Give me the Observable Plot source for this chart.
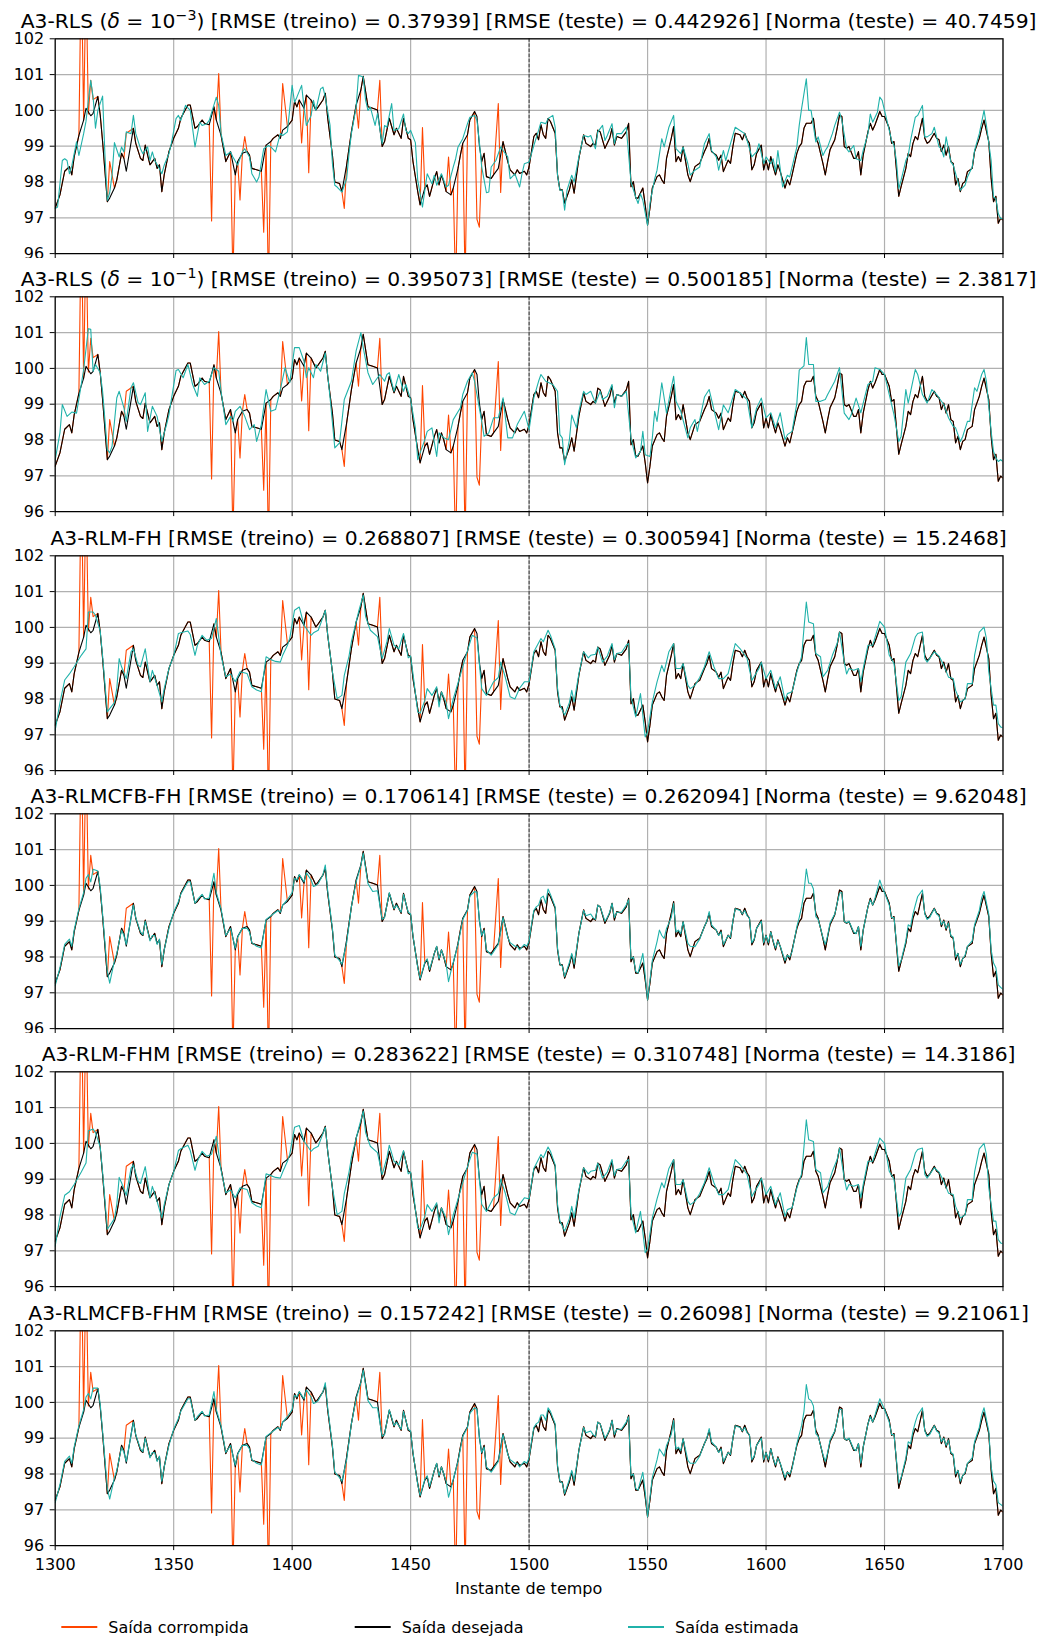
<!DOCTYPE html>
<html>
<head>
<meta charset="utf-8">
<script src="https://cdn.jsdelivr.net/npm/d3@7"></script>
<script src="https://cdn.jsdelivr.net/npm/@observablehq/plot@0.6"></script>
<style>
  html, body { margin: 0; padding: 0; background: #ffffff; }
  #chart { position: relative; width: 1044px; height: 1637px; background: #ffffff; }
</style>
</head>
<body>
<div id="chart"></div>
<script>
// ---- Axis ticks, labels and series names ----
const xTicks = [1300, 1350, 1400, 1450, 1500, 1550, 1600, 1650, 1700];
const yTicks = [96, 97, 98, 99, 100, 101, 102];
const splitInstant = 1500; // end of training, start of test
const xLabel = "Instante de tempo";
const seriesNames = ["Saída corrompida", "Saída desejada", "Saída estimada"];
const seriesColors = ["#ff4500", "#000000", "#20b2aa"];

const panelTitles = [
  "A3-RLS (δ = 10^{−3}) [RMSE (treino) = 0.37939] [RMSE (teste) = 0.442926] [Norma (teste) = 40.7459]",
  "A3-RLS (δ = 10^{−1}) [RMSE (treino) = 0.395073] [RMSE (teste) = 0.500185] [Norma (teste) = 2.3817]",
  "A3-RLM-FH [RMSE (treino) = 0.268807] [RMSE (teste) = 0.300594] [Norma (teste) = 15.2468]",
  "A3-RLMCFB-FH [RMSE (treino) = 0.170614] [RMSE (teste) = 0.262094] [Norma (teste) = 9.62048]",
  "A3-RLM-FHM [RMSE (treino) = 0.283622] [RMSE (teste) = 0.310748] [Norma (teste) = 14.3186]",
  "A3-RLMCFB-FHM [RMSE (treino) = 0.157242] [RMSE (teste) = 0.26098] [Norma (teste) = 9.21061]"
];

// ---- Desired output: [instant, value] ----
const desired = [
  [1300,97.27],[1302,97.64],[1304,98.3],[1306,98.43],[1307,98.2],[1308,98.7],[1310,99.3],[1312,99.73],[1313,100.06],[1315,99.85],
  [1316,99.92],[1318,100.39],[1319,99.87],[1320,99.13],[1322,97.45],[1323,97.55],[1325,97.83],[1326,98.06],[1328,98.8],[1329,98.66],
  [1330,98.3],[1333,99.5],[1334,99.08],[1336,98.66],[1337,98.6],[1338,99.03],[1340,98.48],[1341,98.57],[1342,98.66],[1343,98.38],
  [1344,98.48],[1345,97.73],[1346,98.2],[1348,98.85],[1350,99.22],[1352,99.5],[1353,99.78],[1356,100.15],[1357,100.15],[1359,99.5],
  [1360,99.55],[1362,99.73],[1363,99.64],[1365,99.6],[1367,100.1],[1368,99.73],[1370,99.3],[1372,98.57],[1374,98.85],[1376,98.2],
  [1377,98.57],[1379,98.8],[1381,98.85],[1382,98.75],[1383,98.38],[1385,98.34],[1387,98.3],[1389,99.03],[1391,99.13],[1392,99.22],
  [1394,99.32],[1395,99.22],[1396,99.45],[1398,99.55],[1400,99.73],[1401,100.25],[1402,100.1],[1403,100.29],[1405,100.06],[1406,100.43],
  [1408,100.29],[1410,100.01],[1411,100.1],[1413,100.29],[1414,100.48],[1415,99.78],[1417,98.75],[1418,98.0],[1420,97.96],[1421,97.73],
  [1423,98.48],[1425,99.4],[1427,100.15],[1429,100.57],[1430,100.95],[1432,100.1],[1434,100.06],[1436,100.01],[1438,98.99],[1439,99.13],
  [1441,99.78],[1443,99.32],[1444,99.5],[1446,99.22],[1447,99.78],[1449,99.22],[1450,99.18],[1451,98.57],[1453,97.73],[1454,97.36],
  [1456,97.83],[1457,97.92],[1458,97.6],[1460,98.1],[1461,98.29],[1462,97.92],[1463,98.2],[1464,98.0],[1465,97.73],[1467,97.64],
  [1468,97.83],[1470,98.38],[1471,98.75],[1472,99.08],[1474,99.32],[1475,99.73],[1477,99.97],[1478,99.83],[1479,99.03],[1480,98.57],
  [1481,98.8],[1482,98.15],[1484,98.1],[1485,98.2],[1487,98.38],[1488,98.75],[1489,99.13],[1491,98.57],[1492,98.34],[1494,98.2],
  [1495,98.34],[1496,98.24],[1498,98.3],[1499,98.2],[1500,98.43],[1501,98.85],[1502,99.27],[1503,99.36],[1504,99.18],[1505,99.6],
  [1506,99.32],[1507,99.22],[1508,99.78],[1509,99.69],[1511,99.36],[1512,98.2],[1513,97.78],[1514,97.78],[1515,97.41],[1517,97.78],
  [1518,98.06],[1519,97.69],[1521,98.66],[1523,99.32],[1524,99.08],[1526,98.99],[1527,99.08],[1528,99.03],[1529,99.45],[1530,99.4],
  [1532,98.94],[1533,99.08],[1534,99.22],[1535,99.5],[1536,99.03],[1537,99.27],[1539,99.22],[1541,99.4],[1542,99.64],[1543,97.87],
  [1544,98.01],[1545,97.55],[1546,97.55],[1548,97.83],[1549,97.36],[1550,96.8],[1551,97.27],[1552,97.83],[1554,98.15],[1555,98.2],
  [1556,98.06],[1557,97.96],[1558,98.66],[1560,99.22],[1561,99.55],[1562,98.57],[1563,98.71],[1564,98.57],[1565,98.99],[1567,98.2],
  [1568,98.01],[1570,98.43],[1571,98.48],[1572,98.52],[1574,98.85],[1575,98.99],[1576,99.22],[1577,98.85],[1579,98.75],[1580,98.61],
  [1581,98.75],[1582,98.29],[1584,98.61],[1585,98.52],[1586,98.99],[1587,99.36],[1589,99.32],[1590,99.18],[1591,99.36],[1592,99.18],
  [1593,99.08],[1594,98.34],[1595,98.48],[1596,98.8],[1598,99.03],[1599,98.34],[1600,98.61],[1601,98.34],[1602,98.71],[1603,98.43],
  [1604,98.2],[1605,98.48],[1606,98.29],[1608,97.83],[1609,98.06],[1610,97.92],[1611,98.2],[1613,98.8],[1614,98.99],[1615,99.08],
  [1616,99.5],[1617,99.64],[1619,99.64],[1620,99.78],[1621,99.22],[1622,99.08],[1624,98.52],[1625,98.2],[1626,98.57],[1627,98.9],
  [1629,99.18],[1630,99.5],[1631,99.87],[1632,99.83],[1633,98.99],[1634,98.94],[1635,98.99],[1637,98.66],[1638,98.66],[1639,98.85],
  [1640,98.2],[1641,98.75],[1643,99.4],[1644,99.64],[1645,99.45],[1646,99.6],[1648,99.97],[1649,99.83],[1650,99.83],[1652,99.5],
  [1653,99.08],[1654,99.13],[1656,97.6],[1657,97.87],[1659,98.38],[1660,98.8],[1661,98.71],[1662,99.08],[1663,99.27],[1664,99.18],
  [1666,99.78],[1667,99.22],[1668,99.08],[1669,99.13],[1671,99.36],[1672,99.22],[1673,99.18],[1674,98.85],[1675,99.03],[1676,98.75],
  [1677,98.99],[1678,98.57],[1679,98.52],[1680,97.92],[1681,98.1],[1682,97.73],[1683,97.96],[1684,98.01],[1685,98.29],[1687,98.38],
  [1688,98.85],[1690,99.22],[1691,99.5],[1692,99.73],[1694,99.13],[1695,98.1],[1696,97.45],[1697,97.6],[1698,96.85],[1699,96.99],
  [1700,96.94]
];

// ---- Outliers injected into the training output: [instant, value] ----
const outliers = [
  [1311,104.2],[1313,103.8],[1314,99.9],[1315,100.84],[1316,100.3],[1323,98.57],[1330,99.36],[1366,96.91],[1369,101.03],[1375,95.3],
  [1378,97.5],[1380,99.27],[1388,96.6],[1390,95.0],[1396,100.75],[1404,99.09],[1407,98.26],[1422,97.26],[1428,99.5],[1437,100.84],
  [1455,99.52],[1466,98.7],[1469,95.0],[1473,95.2],[1478,96.96],[1479,96.74],[1487,100.19],[1488,97.71]
];

// ---- Estimated output of each algorithm: [instant, value] ----
const estimatedRls3 = [
  [1300,97.26],[1301,97.3],[1303,98.6],[1304,98.65],[1305,98.6],[1306,98.23],[1307,98.45],[1309,99.12],[1310,98.74],[1312,99.35],
  [1313,99.7],[1314,100.28],[1315,100.84],[1316,100.37],[1317,99.5],[1318,100.0],[1320,100.4],[1321,98.74],[1322,97.49],[1323,97.7],
  [1324,98.2],[1325,99.1],[1326,98.9],[1327,98.7],[1328,98.98],[1329,98.84],[1330,99.4],[1332,99.35],[1333,99.86],[1334,99.35],
  [1336,98.93],[1337,98.79],[1339,98.98],[1340,98.6],[1341,98.84],[1342,98.6],[1344,98.37],[1345,98.23],[1346,98.47],[1348,98.79],
  [1349,99.07],[1351,99.77],[1352,99.86],[1353,99.72],[1355,100.14],[1357,100.0],[1359,98.98],[1361,99.67],[1362,99.58],[1364,99.63],
  [1365,99.72],[1368,100.37],[1369,100.14],[1370,99.35],[1372,98.74],[1374,98.84],[1375,98.7],[1377,98.47],[1379,98.84],[1380,98.93],
  [1382,98.7],[1383,98.23],[1385,98.0],[1386,98.14],[1388,98.93],[1390,99.02],[1391,98.98],[1393,98.84],[1395,99.35],[1396,99.3],
  [1398,99.4],[1400,100.7],[1401,100.23],[1402,100.37],[1404,100.7],[1405,100.09],[1406,99.58],[1408,99.86],[1409,100.28],[1410,100.0],
  [1412,100.6],[1413,100.65],[1414,100.37],[1416,99.58],[1417,98.51],[1418,97.91],[1419,97.86],[1421,97.72],[1423,98.09],[1424,98.79],
  [1425,99.35],[1427,100.09],[1428,100.98],[1430,100.93],[1431,100.28],[1432,100.0],[1433,100.09],[1435,99.58],[1436,99.91],[1437,99.49],
  [1438,99.07],[1439,99.58],[1440,99.53],[1442,100.19],[1443,99.44],[1445,99.49],[1447,99.9],[1448,99.44],[1449,99.35],[1450,99.44],
  [1452,99.1],[1453,98.05],[1455,97.3],[1456,97.77],[1457,98.23],[1459,97.95],[1460,98.19],[1461,97.91],[1463,98.23],[1465,97.86],
  [1466,97.91],[1468,98.42],[1469,98.65],[1470,98.98],[1472,99.21],[1474,99.63],[1475,99.81],[1477,99.86],[1478,99.72],[1479,99.12],
  [1480,98.42],[1482,97.7],[1483,97.72],[1484,98.42],[1486,98.6],[1488,98.98],[1489,98.88],[1491,98.7],[1492,98.09],[1494,98.23],
  [1496,97.86],[1497,98.23],[1498,98.51],[1500,98.56],[1502,99.02],[1504,99.44],[1505,99.67],[1507,99.63],[1508,99.77],[1510,99.86],
  [1511,99.53],[1512,98.19],[1513,97.77],[1514,97.77],[1515,97.21],[1516,97.77],[1518,98.19],[1519,98.0],[1521,98.7],[1523,99.3],
  [1525,99.26],[1526,99.3],[1528,98.93],[1529,99.4],[1531,99.58],[1532,99.16],[1533,99.3],[1535,99.63],[1536,99.07],[1537,99.35],
  [1539,99.35],[1540,99.44],[1541,99.53],[1543,98.0],[1545,97.58],[1546,97.4],[1547,97.67],[1548,97.49],[1550,96.79],[1551,97.4],
  [1553,98.09],[1554,98.33],[1556,99.21],[1557,98.98],[1559,99.53],[1561,99.86],[1562,98.93],[1564,98.79],[1565,98.98],[1567,98.51],
  [1568,98.19],[1570,98.33],[1572,98.42],[1574,99.07],[1576,99.35],[1577,98.88],[1579,98.7],[1580,98.33],[1582,98.88],[1583,98.6],
  [1585,99.07],[1587,99.53],[1589,99.44],[1591,99.35],[1592,99.16],[1594,98.7],[1596,98.84],[1597,99.07],[1599,98.51],[1600,98.7],
  [1602,98.51],[1603,98.65],[1604,98.28],[1605,98.88],[1606,98.37],[1607,97.86],[1609,98.19],[1610,98.14],[1612,98.7],[1613,98.98],
  [1614,99.58],[1615,100.05],[1617,100.88],[1618,100.0],[1619,100.0],[1621,99.12],[1622,99.26],[1624,98.74],[1625,98.88],[1626,98.98],
  [1628,99.35],[1629,99.58],[1631,99.95],[1632,99.72],[1634,98.93],[1635,98.84],[1637,99.02],[1638,98.65],[1640,98.6],[1641,98.88],
  [1643,99.35],[1644,99.9],[1645,99.67],[1647,99.95],[1648,100.37],[1649,100.28],[1651,99.72],[1653,99.16],[1654,99.02],[1655,98.6],
  [1656,97.81],[1657,98.05],[1659,98.6],[1660,98.74],[1661,99.16],[1663,99.81],[1664,99.86],[1666,100.14],[1667,99.26],[1668,99.26],
  [1670,99.35],[1671,99.53],[1673,98.98],[1674,98.93],[1675,98.7],[1676,99.26],[1678,98.56],[1679,98.47],[1681,98.0],[1682,97.77],
  [1684,97.91],[1685,98.14],[1687,98.42],[1688,98.88],[1690,99.35],[1691,99.67],[1692,100.0],[1693,99.58],[1695,98.6],[1696,97.58],
  [1697,97.54],[1698,97.12],[1699,96.98],[1700,96.98]
];

const estimatedRls1 = [
  [1300,97.45],[1302,98.2],[1303,98.99],[1305,98.66],[1307,98.78],[1309,98.75],[1311,99.55],[1312,99.97],[1314,101.11],[1315,101.09],
  [1316,99.92],[1317,100.11],[1319,99.88],[1320,99.36],[1322,97.73],[1323,97.64],[1324,97.83],[1326,99.18],[1327,99.36],[1329,98.9],
  [1330,98.52],[1332,99.46],[1333,99.6],[1335,99.04],[1336,98.99],[1338,99.32],[1339,98.24],[1341,98.94],[1343,98.66],[1345,97.96],
  [1347,98.43],[1348,98.71],[1351,99.94],[1352,99.97],[1354,99.74],[1356,100.11],[1358,99.55],[1360,99.22],[1361,99.74],[1363,99.55],
  [1365,99.64],[1367,100.02],[1369,99.92],[1370,99.36],[1372,98.43],[1374,98.66],[1375,98.52],[1376,98.8],[1378,98.94],[1380,98.66],
  [1382,98.29],[1384,98.43],[1385,97.96],[1387,98.43],[1389,99.41],[1391,98.8],[1393,98.85],[1395,99.41],[1397,100.02],[1399,99.6],
  [1401,100.58],[1403,100.58],[1405,100.2],[1406,99.74],[1407,100.02],[1409,99.74],[1410,100.11],[1412,99.92],[1414,100.43],[1416,99.18],
  [1418,97.78],[1420,97.92],[1422,99.13],[1425,99.64],[1427,100.49],[1429,101.0],[1430,100.58],[1432,99.88],[1434,99.55],[1437,99.83],
  [1439,99.64],[1440,99.83],[1441,99.88],[1443,99.36],[1445,99.83],[1447,99.36],[1448,99.55],[1450,99.13],[1452,98.34],[1453,97.45],
  [1456,98.01],[1457,98.24],[1459,98.34],[1461,97.54],[1462,98.2],[1464,98.06],[1466,98.01],[1468,98.57],[1471,98.9],[1472,99.27],
  [1474,99.64],[1476,99.88],[1477,99.64],[1480,98.52],[1481,98.1],[1483,98.2],[1485,98.62],[1487,98.62],[1489,99.18],[1491,98.06],
  [1493,98.06],[1495,98.43],[1498,98.8],[1500,98.29],[1502,99.18],[1504,99.64],[1505,99.83],[1507,99.64],[1510,99.55],[1512,99.36],
  [1513,98.15],[1514,98.06],[1515,97.31],[1517,98.0],[1518,98.7],[1520,98.34],[1521,98.8],[1523,99.36],[1524,99.27],[1526,99.36],
  [1528,99.03],[1530,99.36],[1531,99.13],[1533,99.22],[1535,99.55],[1536,98.9],[1537,99.27],[1539,99.22],[1541,99.36],[1543,98.06],
  [1545,97.5],[1547,97.68],[1548,98.24],[1549,97.59],[1551,97.54],[1552,98.06],[1553,98.8],[1554,98.52],[1556,99.6],[1558,98.75],
  [1560,99.46],[1561,99.78],[1562,99.08],[1564,98.8],[1567,98.06],[1568,98.34],[1570,98.57],[1571,98.24],[1574,99.2],[1576,99.41],
  [1578,98.85],[1580,98.29],[1582,98.98],[1584,98.76],[1587,99.41],[1589,99.32],[1592,99.13],[1594,98.34],[1596,98.89],[1598,99.17],
  [1600,98.62],[1602,98.76],[1604,98.34],[1606,98.76],[1608,98.01],[1609,98.15],[1611,98.24],[1613,99.03],[1614,99.95],[1616,100.07],
  [1617,100.86],[1618,100.11],[1620,100.11],[1621,99.08],[1623,99.08],[1625,99.13],[1626,99.27],[1629,99.64],[1631,100.02],[1633,98.75],
  [1635,98.57],[1636,98.71],[1638,99.17],[1640,98.76],[1641,99.03],[1643,99.55],[1645,99.64],[1646,100.02],[1648,99.97],[1650,99.83],
  [1652,99.27],[1654,98.71],[1656,97.96],[1657,98.1],[1659,99.41],[1660,99.03],[1663,99.97],[1664,99.83],[1666,99.27],[1668,99.03],
  [1670,99.41],[1672,99.27],[1675,98.99],[1677,98.62],[1679,98.38],[1680,98.34],[1682,97.96],[1683,98.1],[1685,98.52],[1686,98.52],
  [1688,99.46],[1689,99.36],[1691,99.83],[1692,99.97],[1693,99.64],[1695,98.24],[1696,97.68],[1697,97.5],[1698,97.4],[1699,97.45],
  [1700,97.4]
];

const estimatedRlmFh = [
  [1300,97.13],[1302,97.9],[1304,98.53],[1306,98.7],[1308,98.9],[1311,99.22],[1313,99.4],[1314,100.43],[1316,100.43],[1317,100.34],
  [1319,99.9],[1320,99.2],[1322,97.64],[1323,97.73],[1325,97.9],[1326,98.3],[1327,99.13],[1328,98.9],[1330,98.57],[1332,99.32],
  [1333,99.4],[1335,98.94],[1336,98.9],[1338,99.4],[1340,98.48],[1341,98.8],[1343,98.38],[1345,97.92],[1346,98.29],[1348,98.85],
  [1350,99.2],[1352,99.83],[1353,99.85],[1356,99.9],[1357,99.8],[1359,99.22],[1360,99.5],[1362,99.78],[1364,99.64],[1366,99.7],
  [1368,100.25],[1370,99.22],[1372,98.62],[1374,98.7],[1376,98.48],[1378,98.76],[1381,98.71],[1383,98.34],[1385,98.25],[1387,98.2],
  [1389,99.18],[1391,99.1],[1393,99.05],[1395,99.03],[1396,99.22],[1398,99.5],[1399,99.7],[1401,100.48],[1403,100.57],[1405,100.06],
  [1408,99.78],[1409,99.85],[1411,99.92],[1412,100.1],[1414,100.48],[1415,99.8],[1417,98.75],[1419,98.01],[1421,98.1],[1422,98.66],
  [1424,99.2],[1425,99.6],[1428,100.43],[1430,100.9],[1431,100.3],[1433,99.92],[1436,99.74],[1438,99.13],[1440,99.6],[1441,99.97],
  [1443,99.5],[1445,99.4],[1447,99.83],[1449,99.15],[1450,99.2],[1451,98.7],[1453,97.64],[1454,97.6],[1456,97.96],[1457,98.29],
  [1459,98.1],[1461,98.34],[1462,97.78],[1463,98.2],[1465,97.9],[1466,97.45],[1468,98.0],[1470,98.45],[1472,98.9],[1474,99.35],
  [1476,99.78],[1478,99.7],[1480,98.29],[1482,98.1],[1485,98.48],[1487,98.6],[1488,99.03],[1490,98.6],[1492,98.06],[1494,98.0],
  [1496,98.3],[1498,98.48],[1500,98.48],[1502,99.32],[1505,99.69],[1506,99.6],[1508,99.92],[1509,99.78],[1511,99.4],[1512,98.3],
  [1513,97.83],[1515,97.55],[1517,97.9],[1518,98.24],[1519,97.92],[1521,98.7],[1523,99.32],[1525,99.15],[1526,99.22],[1528,99.25],
  [1529,99.45],[1531,99.03],[1533,99.2],[1535,99.55],[1536,99.1],[1537,99.27],[1539,99.3],[1541,99.5],[1542,99.55],[1543,98.06],
  [1545,97.5],[1547,98.15],[1549,96.94],[1550,97.08],[1552,97.92],[1554,98.48],[1556,98.94],[1557,98.76],[1559,99.32],[1561,99.55],
  [1562,98.85],[1564,98.85],[1565,98.99],[1567,98.38],[1568,98.29],[1570,98.38],[1572,98.6],[1574,98.9],[1576,99.32],[1578,98.9],
  [1580,98.57],[1582,98.57],[1584,98.71],[1587,99.55],[1589,99.41],[1592,99.13],[1594,98.52],[1597,98.85],[1598,99.03],[1600,98.57],
  [1602,98.8],[1604,98.29],[1606,98.62],[1608,97.96],[1609,98.15],[1611,98.2],[1613,98.75],[1615,99.18],[1616,99.97],[1617,100.71],
  [1618,100.15],[1620,100.1],[1621,99.27],[1623,99.18],[1624,98.62],[1626,98.8],[1628,99.22],[1630,99.55],[1631,99.87],[1633,99.03],
  [1634,98.7],[1635,98.85],[1637,98.8],[1639,98.85],[1640,98.48],[1641,98.85],[1643,99.5],[1645,99.5],[1648,100.17],[1650,100.01],
  [1652,99.22],[1654,98.99],[1656,97.96],[1657,98.06],[1659,99.03],[1661,99.27],[1663,99.73],[1664,99.83],[1666,99.87],[1667,99.13],
  [1668,99.03],[1671,99.32],[1673,99.2],[1675,98.94],[1677,98.61],[1679,98.57],[1680,98.24],[1682,97.92],[1684,98.0],[1685,98.43],
  [1687,98.43],[1688,99.22],[1690,99.87],[1692,100.01],[1693,99.69],[1694,98.76],[1696,97.83],[1697,97.83],[1698,97.31],[1699,97.22],
  [1700,97.2]
];

const estimatedRlmcfbFh = [
  [1300,97.2],[1302,97.7],[1304,98.35],[1306,98.5],[1307,98.3],[1308,98.75],[1310,99.35],[1312,99.8],[1313,100.2],[1314,100.3],
  [1315,100.1],[1316,100.45],[1318,100.4],[1319,99.95],[1320,99.2],[1322,97.6],[1323,97.27],[1325,97.9],[1326,98.1],[1328,98.75],
  [1329,98.6],[1330,98.35],[1333,99.45],[1334,99.1],[1336,98.7],[1337,98.62],[1338,99.0],[1340,98.45],[1341,98.6],[1342,98.6],
  [1343,98.35],[1344,98.5],[1345,97.8],[1346,98.2],[1348,98.8],[1350,99.25],[1352,99.55],[1353,99.75],[1356,100.1],[1357,100.1],
  [1359,99.5],[1360,99.6],[1362,99.75],[1363,99.62],[1365,99.65],[1367,100.34],[1368,99.8],[1370,99.35],[1372,98.6],[1374,98.8],
  [1376,98.25],[1377,98.55],[1379,98.8],[1381,98.8],[1382,98.7],[1383,98.4],[1385,98.3],[1387,98.25],[1389,99.05],[1391,99.15],
  [1392,99.2],[1394,99.3],[1395,99.25],[1396,99.45],[1398,99.6],[1400,99.8],[1401,100.2],[1402,100.15],[1403,100.3],[1405,100.1],
  [1406,100.35],[1408,100.15],[1409,99.97],[1410,100.0],[1411,100.05],[1413,100.3],[1414,100.57],[1415,99.85],[1417,98.8],[1418,98.05],
  [1420,97.9],[1421,97.8],[1423,98.4],[1425,99.4],[1427,100.1],[1429,100.55],[1430,100.9],[1432,100.05],[1434,99.83],[1436,99.85],
  [1438,99.05],[1439,99.1],[1441,99.8],[1443,99.35],[1444,99.45],[1446,99.25],[1447,99.75],[1449,99.25],[1450,99.2],[1451,98.6],
  [1453,97.7],[1454,97.4],[1456,97.85],[1457,97.95],[1458,97.65],[1460,98.1],[1461,98.3],[1462,97.95],[1463,98.2],[1464,98.0],
  [1465,97.8],[1466,97.31],[1467,97.6],[1468,97.85],[1470,98.35],[1471,98.7],[1472,99.05],[1474,99.3],[1475,99.7],[1477,99.83],
  [1478,99.8],[1479,99.05],[1480,98.6],[1481,98.75],[1482,98.2],[1484,98.05],[1485,98.15],[1487,98.35],[1488,98.7],[1489,99.1],
  [1491,98.55],[1492,98.4],[1494,98.3],[1495,98.3],[1496,98.2],[1498,98.35],[1499,98.3],[1500,98.45],[1501,98.9],[1502,99.3],
  [1503,99.4],[1504,99.45],[1505,99.65],[1506,99.7],[1507,99.5],[1508,99.9],[1509,99.75],[1511,99.4],[1512,98.25],[1513,97.8],
  [1514,97.75],[1515,97.45],[1517,97.85],[1518,98.1],[1519,97.8],[1521,98.65],[1523,99.3],[1524,99.15],[1526,99.2],[1527,99.1],
  [1528,99.05],[1529,99.45],[1530,99.4],[1532,99.0],[1533,99.1],[1534,99.25],[1535,99.5],[1536,99.1],[1537,99.25],[1539,99.25],
  [1541,99.45],[1542,99.6],[1543,97.95],[1544,98.0],[1545,97.6],[1546,97.55],[1548,98.1],[1549,97.5],[1550,96.8],[1551,97.35],
  [1552,97.9],[1554,98.43],[1555,98.75],[1556,98.6],[1557,98.52],[1558,98.8],[1560,99.1],[1561,99.5],[1562,98.7],[1563,98.75],
  [1564,98.65],[1565,98.99],[1567,98.38],[1568,98.3],[1570,98.29],[1571,98.4],[1572,98.5],[1574,98.85],[1575,99.0],[1576,99.27],
  [1577,98.9],[1579,98.75],[1580,98.6],[1581,98.7],[1582,98.35],[1584,98.6],[1585,98.55],[1586,99.0],[1587,99.35],[1589,99.3],
  [1590,99.2],[1591,99.3],[1592,99.15],[1593,99.1],[1594,98.4],[1595,98.5],[1596,98.8],[1598,99.0],[1599,98.4],[1600,98.6],
  [1601,98.4],[1602,98.7],[1603,98.45],[1604,98.25],[1605,98.45],[1606,98.3],[1608,97.9],[1609,98.05],[1610,98.0],[1611,98.15],
  [1613,98.85],[1614,99.1],[1615,99.4],[1616,99.8],[1617,100.46],[1618,100.06],[1619,100.06],[1620,99.9],[1621,99.13],[1622,99.05],
  [1624,98.55],[1625,98.35],[1626,98.6],[1627,98.95],[1629,99.2],[1630,99.5],[1631,99.78],[1632,99.8],[1633,99.0],[1634,98.95],
  [1635,99.0],[1637,98.7],[1638,98.65],[1639,98.85],[1640,98.3],[1641,98.75],[1643,99.4],[1644,99.6],[1645,99.45],[1646,99.65],
  [1648,100.15],[1649,99.95],[1650,99.8],[1652,99.45],[1653,99.1],[1654,99.1],[1656,97.75],[1657,97.9],[1659,98.45],[1660,98.9],
  [1661,98.85],[1662,99.2],[1663,99.45],[1664,99.69],[1666,99.87],[1667,99.2],[1668,99.05],[1669,99.1],[1671,99.35],[1672,99.2],
  [1673,99.15],[1674,98.9],[1675,99.0],[1676,98.8],[1677,98.95],[1678,98.6],[1679,98.55],[1680,98.0],[1681,98.1],[1682,97.8],
  [1683,97.95],[1684,98.05],[1685,98.3],[1687,98.45],[1688,98.9],[1690,99.3],[1691,99.65],[1692,99.83],[1694,99.2],[1695,98.2],
  [1696,97.83],[1697,97.7],[1698,97.22],[1699,97.15],[1700,97.1]
];

const estimatedRlmFhm = [
  [1300,97.13],[1302,97.95],[1304,98.55],[1306,98.65],[1308,98.85],[1311,99.2],[1313,99.45],[1314,100.35],[1316,100.4],[1317,100.3],
  [1319,99.9],[1320,99.2],[1322,97.6],[1323,97.7],[1325,97.9],[1326,98.3],[1327,99.05],[1328,98.9],[1330,98.55],[1332,99.3],
  [1333,99.4],[1335,98.94],[1336,98.88],[1338,99.35],[1340,98.48],[1341,98.8],[1343,98.38],[1345,97.92],[1346,98.29],[1348,98.85],
  [1350,99.2],[1352,99.8],[1353,99.85],[1356,99.95],[1357,99.8],[1359,99.25],[1360,99.5],[1362,99.78],[1364,99.64],[1366,99.7],
  [1368,100.2],[1370,99.25],[1372,98.62],[1374,98.7],[1376,98.48],[1378,98.76],[1381,98.71],[1383,98.34],[1385,98.25],[1387,98.2],
  [1389,99.15],[1391,99.1],[1393,99.05],[1395,99.03],[1396,99.2],[1398,99.5],[1399,99.7],[1401,100.45],[1403,100.5],[1405,100.06],
  [1408,99.78],[1409,99.85],[1411,99.92],[1412,100.1],[1414,100.45],[1415,99.8],[1417,98.75],[1419,98.01],[1421,98.1],[1422,98.6],
  [1424,99.2],[1425,99.6],[1428,100.4],[1430,100.9],[1431,100.3],[1433,99.92],[1436,99.74],[1438,99.13],[1440,99.6],[1441,99.95],
  [1443,99.5],[1445,99.4],[1447,99.8],[1449,99.15],[1450,99.2],[1451,98.7],[1453,97.64],[1454,97.6],[1456,97.96],[1457,98.29],
  [1459,98.1],[1461,98.34],[1462,97.78],[1463,98.2],[1465,97.9],[1466,97.45],[1468,98.0],[1470,98.45],[1472,98.9],[1474,99.35],
  [1476,99.75],[1478,99.7],[1480,98.3],[1482,98.1],[1485,98.48],[1487,98.6],[1488,99.0],[1490,98.6],[1492,98.06],[1494,98.0],
  [1496,98.3],[1498,98.48],[1500,98.45],[1502,99.3],[1505,99.69],[1506,99.6],[1508,99.9],[1509,99.78],[1511,99.4],[1512,98.3],
  [1513,97.83],[1515,97.55],[1517,97.9],[1518,98.24],[1519,97.92],[1521,98.7],[1523,99.32],[1525,99.15],[1526,99.22],[1528,99.25],
  [1529,99.45],[1531,99.03],[1533,99.2],[1535,99.55],[1536,99.1],[1537,99.27],[1539,99.3],[1541,99.5],[1542,99.55],[1543,98.06],
  [1545,97.5],[1547,98.1],[1549,96.95],[1550,97.05],[1552,97.92],[1554,98.45],[1556,98.9],[1557,98.76],[1559,99.3],[1561,99.55],
  [1562,98.85],[1564,98.85],[1565,98.99],[1567,98.38],[1568,98.29],[1570,98.38],[1572,98.6],[1574,98.9],[1576,99.32],[1578,98.9],
  [1580,98.57],[1582,98.57],[1584,98.71],[1587,99.55],[1589,99.41],[1592,99.13],[1594,98.52],[1597,98.85],[1598,99.03],[1600,98.57],
  [1602,98.8],[1604,98.29],[1606,98.62],[1608,97.96],[1609,98.15],[1611,98.2],[1613,98.75],[1615,99.15],[1616,99.9],[1617,100.66],
  [1618,100.1],[1620,100.05],[1621,99.27],[1623,99.18],[1624,98.62],[1626,98.8],[1628,99.22],[1630,99.55],[1631,99.87],[1633,99.03],
  [1634,98.7],[1635,98.85],[1637,98.8],[1639,98.85],[1640,98.48],[1641,98.85],[1643,99.5],[1645,99.5],[1648,100.15],[1650,100.0],
  [1652,99.22],[1654,98.99],[1656,97.96],[1657,98.06],[1659,99.03],[1661,99.27],[1663,99.73],[1664,99.83],[1666,99.87],[1667,99.13],
  [1668,99.03],[1671,99.32],[1673,99.2],[1675,98.94],[1677,98.61],[1679,98.57],[1680,98.24],[1682,97.92],[1684,98.0],[1685,98.43],
  [1687,98.43],[1688,99.2],[1690,99.85],[1692,100.0],[1693,99.69],[1694,98.76],[1696,97.83],[1697,97.83],[1698,97.31],[1699,97.22],
  [1700,97.2]
];

const estimatedRlmcfbFhm = [
  [1300,97.2],[1302,97.7],[1304,98.35],[1306,98.5],[1307,98.3],[1308,98.75],[1310,99.35],[1312,99.8],[1313,100.15],[1314,100.25],
  [1315,100.1],[1316,100.4],[1318,100.4],[1319,99.95],[1320,99.2],[1322,97.6],[1323,97.3],[1325,97.9],[1326,98.1],[1328,98.75],
  [1329,98.6],[1330,98.35],[1333,99.45],[1334,99.1],[1336,98.7],[1337,98.62],[1338,99.0],[1340,98.45],[1341,98.6],[1342,98.6],
  [1343,98.35],[1344,98.5],[1345,97.8],[1346,98.2],[1348,98.8],[1350,99.25],[1352,99.55],[1353,99.75],[1356,100.1],[1357,100.1],
  [1359,99.5],[1360,99.6],[1362,99.75],[1363,99.62],[1365,99.65],[1367,100.3],[1368,99.8],[1370,99.35],[1372,98.6],[1374,98.8],
  [1376,98.25],[1377,98.55],[1379,98.8],[1381,98.8],[1382,98.7],[1383,98.4],[1385,98.3],[1387,98.25],[1389,99.05],[1391,99.15],
  [1392,99.2],[1394,99.3],[1395,99.25],[1396,99.45],[1398,99.6],[1400,99.8],[1401,100.2],[1402,100.15],[1403,100.3],[1405,100.1],
  [1406,100.35],[1408,100.15],[1409,99.97],[1410,100.0],[1411,100.05],[1413,100.3],[1414,100.55],[1415,99.85],[1417,98.8],[1418,98.05],
  [1420,97.9],[1421,97.8],[1423,98.4],[1425,99.4],[1427,100.1],[1429,100.55],[1430,100.9],[1432,100.05],[1434,99.85],[1436,99.85],
  [1438,99.05],[1439,99.1],[1441,99.8],[1443,99.35],[1444,99.45],[1446,99.25],[1447,99.75],[1449,99.25],[1450,99.2],[1451,98.6],
  [1453,97.7],[1454,97.4],[1456,97.85],[1457,97.95],[1458,97.65],[1460,98.1],[1461,98.3],[1462,97.95],[1463,98.2],[1464,98.0],
  [1465,97.8],[1466,97.35],[1467,97.6],[1468,97.85],[1470,98.35],[1471,98.7],[1472,99.05],[1474,99.3],[1475,99.7],[1477,99.85],
  [1478,99.8],[1479,99.05],[1480,98.6],[1481,98.75],[1482,98.2],[1484,98.05],[1485,98.15],[1487,98.35],[1488,98.7],[1489,99.1],
  [1491,98.55],[1492,98.4],[1494,98.3],[1495,98.3],[1496,98.2],[1498,98.35],[1499,98.3],[1500,98.45],[1501,98.9],[1502,99.3],
  [1503,99.4],[1504,99.45],[1505,99.65],[1506,99.65],[1507,99.5],[1508,99.85],[1509,99.75],[1511,99.4],[1512,98.25],[1513,97.8],
  [1514,97.75],[1515,97.45],[1517,97.85],[1518,98.1],[1519,97.8],[1521,98.65],[1523,99.3],[1524,99.15],[1526,99.2],[1527,99.1],
  [1528,99.05],[1529,99.45],[1530,99.4],[1532,99.0],[1533,99.1],[1534,99.25],[1535,99.5],[1536,99.1],[1537,99.25],[1539,99.25],
  [1541,99.45],[1542,99.6],[1543,97.95],[1544,98.0],[1545,97.6],[1546,97.55],[1548,98.05],[1549,97.5],[1550,96.8],[1551,97.35],
  [1552,97.9],[1554,98.4],[1555,98.7],[1556,98.6],[1557,98.5],[1558,98.8],[1560,99.1],[1561,99.5],[1562,98.7],[1563,98.75],
  [1564,98.65],[1565,98.99],[1567,98.38],[1568,98.3],[1570,98.3],[1571,98.4],[1572,98.5],[1574,98.85],[1575,99.0],[1576,99.27],
  [1577,98.9],[1579,98.75],[1580,98.6],[1581,98.7],[1582,98.35],[1584,98.6],[1585,98.55],[1586,99.0],[1587,99.35],[1589,99.3],
  [1590,99.2],[1591,99.3],[1592,99.15],[1593,99.1],[1594,98.4],[1595,98.5],[1596,98.8],[1598,99.0],[1599,98.4],[1600,98.6],
  [1601,98.4],[1602,98.7],[1603,98.45],[1604,98.25],[1605,98.45],[1606,98.3],[1608,97.9],[1609,98.05],[1610,98.0],[1611,98.15],
  [1613,98.85],[1614,99.1],[1615,99.35],[1616,99.75],[1617,100.5],[1618,100.1],[1619,100.05],[1620,99.9],[1621,99.13],[1622,99.05],
  [1624,98.55],[1625,98.35],[1626,98.6],[1627,98.95],[1629,99.2],[1630,99.5],[1631,99.8],[1632,99.8],[1633,99.0],[1634,98.95],
  [1635,99.0],[1637,98.7],[1638,98.65],[1639,98.85],[1640,98.3],[1641,98.75],[1643,99.4],[1644,99.6],[1645,99.45],[1646,99.65],
  [1648,100.1],[1649,99.95],[1650,99.8],[1652,99.45],[1653,99.1],[1654,99.1],[1656,97.75],[1657,97.9],[1659,98.45],[1660,98.9],
  [1661,98.85],[1662,99.2],[1663,99.45],[1664,99.65],[1666,99.85],[1667,99.2],[1668,99.05],[1669,99.1],[1671,99.35],[1672,99.2],
  [1673,99.15],[1674,98.9],[1675,99.0],[1676,98.8],[1677,98.95],[1678,98.6],[1679,98.55],[1680,98.0],[1681,98.1],[1682,97.8],
  [1683,97.95],[1684,98.05],[1685,98.3],[1687,98.45],[1688,98.9],[1690,99.3],[1691,99.65],[1692,99.85],[1694,99.2],[1695,98.2],
  [1696,97.8],[1697,97.7],[1698,97.2],[1699,97.15],[1700,97.1]
];

const estimatedSeries = [estimatedRls3, estimatedRls1, estimatedRlmFh, estimatedRlmcfbFh, estimatedRlmFhm, estimatedRlmcfbFhm];

// ---- Layout ----
const FONT = "'DejaVu Sans', sans-serif";
const WIDTH = 1044;
const TOTAL_HEIGHT = 1637;
const MARGIN_LEFT = 54.7;
const MARGIN_RIGHT = 41.5;
const FRAME_TOP = 38.3;
const FRAME_HEIGHT = 214.8;
const PANEL_STEP = 258.3;
const plotCenterX = MARGIN_LEFT + (WIDTH - MARGIN_LEFT - MARGIN_RIGHT) / 2;

// Corrupted output = desired output with the outliers put in place
function withOutliers(base, spikes) {
  const byInstant = new Map(base.map(([t, v]) => [t, v]));
  for (const [t, v] of spikes) byInstant.set(t, v);
  return Array.from(byInstant, ([t, v]) => [t, v]).sort((a, b) => a[0] - b[0]);
}
const corrupted = withOutliers(desired, outliers);

// Title with italic δ and a superscript exponent written as ^{...}
function drawTitle(svg, title) {
  const text = d3.select(svg).append("text")
    .attr("x", plotCenterX)
    .attr("y", FRAME_TOP - 10)
    .attr("text-anchor", "middle")
    .attr("font-family", FONT)
    .attr("font-size", 20.3)
    .attr("fill", "#000");
  const parts = title.split(/(δ|\^\{[^}]*\})/).filter(s => s.length);
  let raised = false;
  for (const part of parts) {
    if (part === "δ") {
      text.append("tspan").attr("font-style", "italic").text("δ");
    } else if (part.startsWith("^{")) {
      text.append("tspan").attr("dy", -8).attr("font-size", 14.2).text(part.slice(2, -1));
      raised = true;
    } else {
      const span = text.append("tspan").text(part);
      if (raised) { span.attr("dy", 8); raised = false; }
    }
  }
}

const chart = document.getElementById("chart");
const xy = { x: d => d[0], y: d => d[1] };

estimatedSeries.forEach((estimated, i) => {
  const last = i === estimatedSeries.length - 1;
  const top = i * PANEL_STEP;
  const height = last ? TOTAL_HEIGHT - top : PANEL_STEP;
  const marginBottom = height - FRAME_TOP - FRAME_HEIGHT;

  const svg = Plot.plot({
    width: WIDTH,
    height,
    marginTop: FRAME_TOP,
    marginBottom,
    marginLeft: MARGIN_LEFT,
    marginRight: MARGIN_RIGHT,
    style: { fontFamily: FONT, fontSize: "16px", background: "#ffffff", overflow: "visible", color: "#000" },
    x: { domain: [1300, 1700] },
    y: { domain: [96, 102] },
    marks: [
      Plot.gridY(yTicks, { stroke: "#b0b0b0", strokeOpacity: 1, strokeWidth: 1.2 }),
      Plot.gridX(xTicks, { stroke: "#b0b0b0", strokeOpacity: 1, strokeWidth: 1.2 }),
      Plot.ruleX([splitInstant], { stroke: "#333", strokeWidth: 1, strokeDasharray: "3.5,1.6" }),
      Plot.line(corrupted, { ...xy, stroke: seriesColors[0], strokeWidth: 1.1, clip: true }),
      Plot.line(desired, { ...xy, stroke: seriesColors[1], strokeWidth: 1.1, clip: true }),
      Plot.line(estimated, { ...xy, stroke: seriesColors[2], strokeWidth: 1.1, clip: true }),
      Plot.frame({ stroke: "#000", strokeWidth: 1.2 }),
      Plot.axisY(yTicks, { tickSize: 5, tickPadding: 6, fontSize: 16, tickFormat: d => String(d), label: null }),
      Plot.axisX(xTicks, { tickSize: 5, tickPadding: 8, fontSize: 16, tickFormat: last ? (d => String(d)) : (() => ""), label: null })
    ]
  });
  svg.style.position = "absolute";
  svg.style.left = "0px";
  svg.style.top = top + "px";
  chart.appendChild(svg);

  drawTitle(svg, panelTitles[i]);

  if (last) {
    const sel = d3.select(svg);
    const frameBottom = FRAME_TOP + FRAME_HEIGHT;
    sel.append("text")
      .attr("x", plotCenterX)
      .attr("y", frameBottom + 49)
      .attr("text-anchor", "middle")
      .attr("font-family", FONT)
      .attr("font-size", 16)
      .attr("fill", "#000")
      .text(xLabel);

    const legendY = frameBottom + 82;
    const legendX = [61.3, 354.7, 628];
    seriesNames.forEach((name, k) => {
      sel.append("line")
        .attr("x1", legendX[k]).attr("x2", legendX[k] + 36)
        .attr("y1", legendY).attr("y2", legendY)
        .attr("stroke", seriesColors[k]).attr("stroke-width", 2);
      sel.append("text")
        .attr("x", legendX[k] + 47)
        .attr("y", legendY)
        .attr("dy", "0.35em")
        .attr("text-anchor", "start")
        .attr("font-family", FONT)
        .attr("font-size", 16)
        .attr("fill", "#000")
        .text(name);
    });
  }
});
</script>
</body>
</html>
